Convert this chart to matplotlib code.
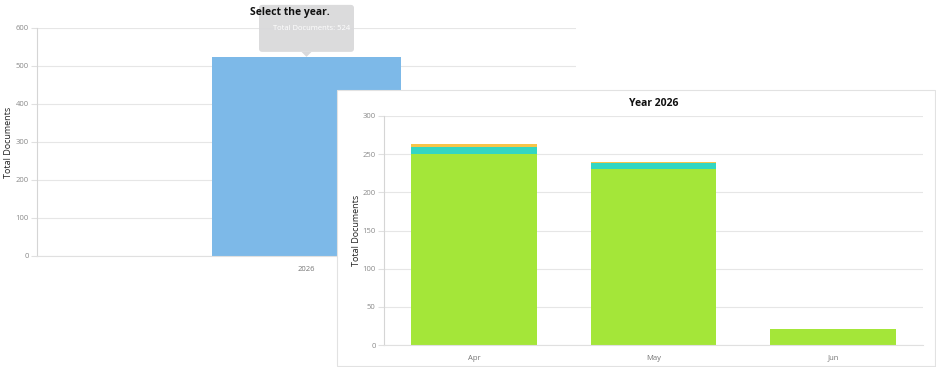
import matplotlib.pyplot as plt
from matplotlib.patches import Rectangle, FancyBboxPatch, Polygon

# background chart: total per year
years = ['2026']
year_totals = [524]

# overlay chart: monthly stacked totals for 2026
months = ['Apr', 'May', 'Jun']
series_green = [250, 231, 21]
series_cyan = [10, 8, 0]
series_orange = [3, 1, 0]

plt.rcParams['font.family'] = ['Open Sans', 'DejaVu Sans']

W, H = 936, 367
fig = plt.figure(figsize=(W / 100, H / 100), dpi=100)
fig.patch.set_facecolor('white')

def px(x0, y0, x1, y1):
    # pixel box (top-left origin) -> figure fraction rect
    return [x0 / W, 1 - y1 / H, (x1 - x0) / W, (y1 - y0) / H]

def style_axes(ax, ylabel):
    ax.set_facecolor('none')
    for s in ['top', 'right']:
        ax.spines[s].set_visible(False)
    ax.spines['left'].set_color('#d5d5d5')
    ax.spines['bottom'].set_color('#e0e0e0')
    ax.grid(axis='y', color='#e6e6e6', lw=0.8)
    ax.set_axisbelow(True)
    ax.tick_params(axis='y', length=4, color='#e0e0e0', labelsize=5.5, labelcolor='#8a8a8a', pad=2)
    ax.tick_params(axis='x', length=0, labelsize=5.5, labelcolor='#757575', pad=7)
    ax.set_ylabel(ylabel, fontsize=6.5, color='#222222')

# ---- background chart ----
ax1 = fig.add_axes(px(37, 28, 576, 256))
x1 = list(range(len(years)))
ax1.bar(x1, year_totals, width=0.35, color='#7db9e8', zorder=2)
ax1.set_xlim(-0.5, 0.5)
ax1.set_ylim(0, 600)
ax1.set_yticks(range(0, 601, 100))
ax1.set_xticks(x1, years)
style_axes(ax1, 'Total Documents')
ax1.yaxis.set_label_coords(-0.045, 0.5)
fig.text(290 / W, 1 - 12 / H, 'Select the year.', ha='center', va='center',
         fontsize=7.5, fontweight='bold', color='#111111', zorder=6)

# tooltip anchored to the bar top
bx, by = ax1.transData.transform((x1[0], year_totals[0]))
tw, th = 95, 47
tip_bottom = by + 5
tip = FancyBboxPatch((bx - tw / 2, tip_bottom), tw, th, boxstyle='round,pad=0,rounding_size=3',
                     transform=None, fc='#d9d9db', ec='none', alpha=0.95, zorder=5)
fig.patches.append(tip)
fig.patches.append(Polygon([(bx - 5, tip_bottom), (bx + 5, tip_bottom), (bx, tip_bottom - 5)],
                           closed=True, transform=None, fc='#d9d9db', ec='none', zorder=5))
fig.text((bx + 5) / W, (tip_bottom + th / 2) / H, f'Total Documents: {year_totals[0]}',
         ha='center', va='center', fontsize=5.5, color='white', zorder=6)

# ---- overlay panel ----
for off, a in [(3, 0.05), (2, 0.08), (1, 0.12)]:
    fig.patches.append(Rectangle(((337 + off) / W, (1 - (366 + off) / H)), 598 / W, 276 / H,
                                 transform=fig.transFigure, fc='black', alpha=a, ec='none', zorder=7))
fig.patches.append(Rectangle((337 / W, 1 - 366 / H), 598 / W, 276 / H, transform=fig.transFigure,
                             fc='white', ec='#e2e2e2', lw=0.8, zorder=8))

ax2 = fig.add_axes(px(384, 116, 923, 345))
ax2.set_zorder(10)
x2 = list(range(len(months)))
bottom2 = [g + c for g, c in zip(series_green, series_cyan)]
ax2.bar(x2, series_green, width=0.7, color='#a4e639', zorder=2)
ax2.bar(x2, series_cyan, width=0.7, bottom=series_green, color='#33d6c2', zorder=2)
ax2.bar(x2, series_orange, width=0.7, bottom=bottom2, color='#f7c548', zorder=2)
ax2.set_xlim(-0.5, len(months) - 0.5)
ax2.set_ylim(0, 300)
ax2.set_yticks(range(0, 301, 50))
ax2.set_xticks(x2, months)
style_axes(ax2, 'Total Documents')
ax2.yaxis.set_label_coords(-0.043, 0.5)
ax2.set_title('Year 2026', fontsize=7.5, fontweight='bold', color='#111111', pad=7.5)

fig.savefig('out.png', dpi=100)
